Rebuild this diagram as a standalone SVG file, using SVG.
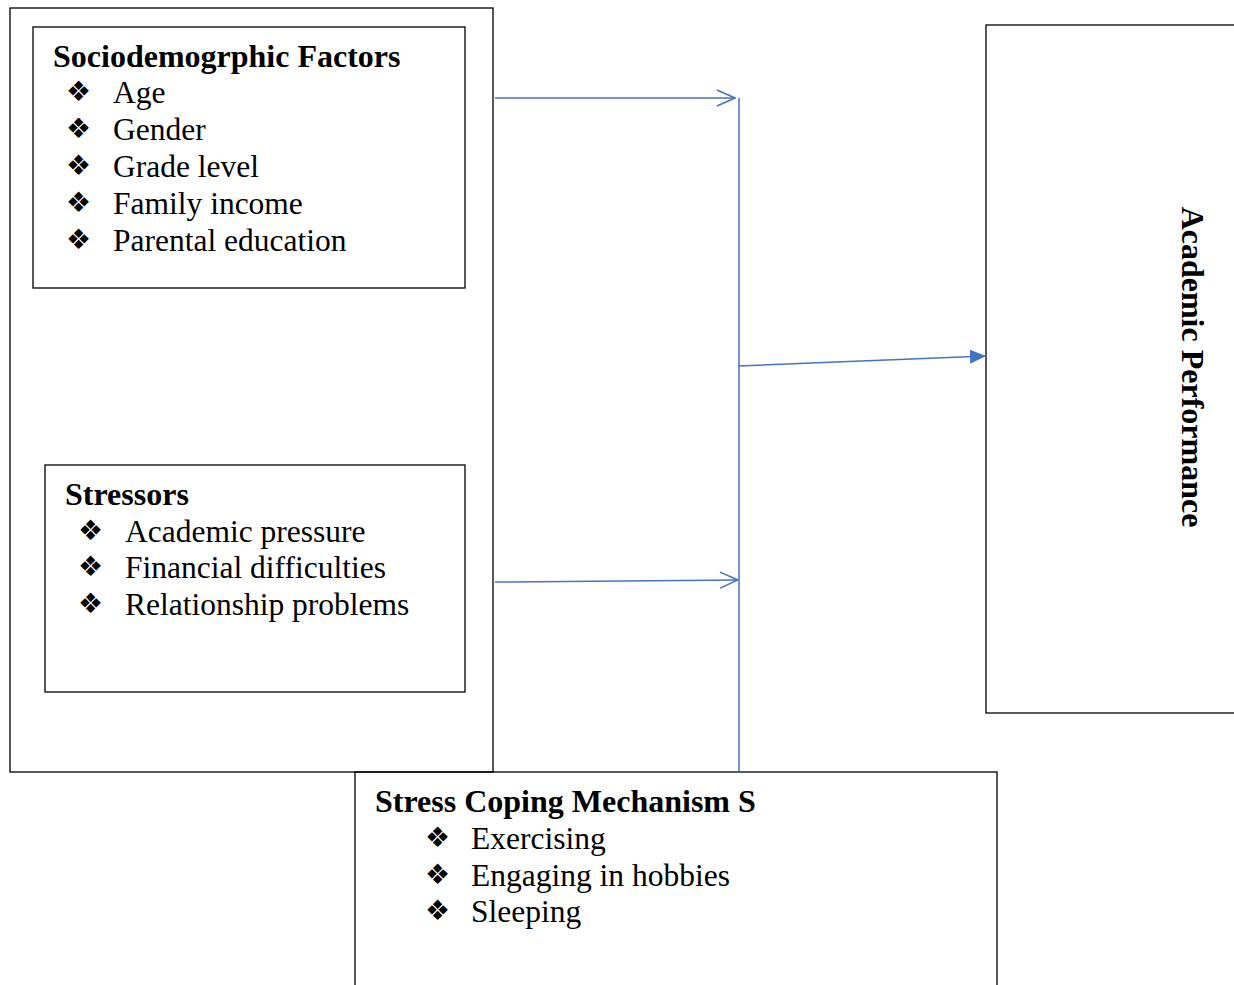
<svg xmlns="http://www.w3.org/2000/svg" width="1234" height="985" viewBox="0 0 1234 985">
<style>
.box{fill:none;stroke:#000;stroke-width:1.3}
.t{font-family:"Liberation Serif","Times New Roman",serif;font-size:31.5px;fill:#000}
.b{font-weight:bold;font-size:32px}
.bul{font-family:"DejaVu Sans",sans-serif;font-size:28px;fill:#000}
.ln{stroke:#4472C4;stroke-width:1.5;fill:none}
</style>
<defs>
<marker id="open" viewBox="0 0 20 20" refX="19" refY="10" markerWidth="20" markerHeight="20" markerUnits="userSpaceOnUse" orient="auto">
<path d="M1,2 L19,10 L1,18" fill="none" stroke="#4472C4" stroke-width="1.5"/>
</marker>
<marker id="fill" viewBox="0 0 16 14" refX="16" refY="7" markerWidth="16" markerHeight="14" markerUnits="userSpaceOnUse" orient="auto">
<path d="M0,0 L16,7 L0,14 Z" fill="#4472C4"/>
</marker>
</defs>
<rect width="1234" height="985" fill="#fff"/>
<g id="outer"><rect class="box" x="10" y="8" width="483" height="764"/></g>
<g id="socio">
<rect class="box" x="33" y="27" width="432" height="261"/>
<text class="t b" x="53" y="67">Sociodemogrphic Factors</text>
<text class="bul" x="66" y="101">❖</text><text class="t" x="113" y="103">Age</text>
<text class="bul" x="66" y="138">❖</text><text class="t" x="113" y="140">Gender</text>
<text class="bul" x="66" y="175">❖</text><text class="t" x="113" y="177">Grade level</text>
<text class="bul" x="66" y="212">❖</text><text class="t" x="113" y="214">Family income</text>
<text class="bul" x="66" y="249">❖</text><text class="t" x="113" y="251">Parental education</text>
</g>
<g id="stressors">
<rect class="box" x="45" y="465" width="420" height="227"/>
<text class="t b" x="65" y="505">Stressors</text>
<text class="bul" x="78" y="540">❖</text><text class="t" x="125" y="542">Academic pressure</text>
<text class="bul" x="78" y="576">❖</text><text class="t" x="125" y="578">Financial difficulties</text>
<text class="bul" x="78" y="613">❖</text><text class="t" x="125" y="615">Relationship problems</text>
</g>
<g id="coping">
<rect class="box" x="355" y="772" width="642" height="220"/>
<text class="t b" x="375" y="812">Stress Coping Mechanism S</text>
<text class="bul" x="425" y="847">❖</text><text class="t" x="471" y="849">Exercising</text>
<text class="bul" x="425" y="884">❖</text><text class="t" x="471" y="886">Engaging in hobbies</text>
<text class="bul" x="425" y="920">❖</text><text class="t" x="471" y="922">Sleeping</text>
</g>
<g id="academic">
<rect class="box" x="986" y="25" width="260" height="688"/>
<text class="t b" x="0" y="0" text-anchor="middle" transform="translate(1182,367) rotate(90)">Academic Performance</text>
</g>
<g id="connectors">
<line class="ln" x1="739" y1="98" x2="739" y2="771"/>
<line class="ln" x1="495" y1="98" x2="735" y2="98" marker-end="url(#open)"/>
<line class="ln" x1="495" y1="582" x2="738" y2="580" marker-end="url(#open)"/>
<line class="ln" x1="739" y1="366" x2="986" y2="356" marker-end="url(#fill)"/>
</g>
</svg>
